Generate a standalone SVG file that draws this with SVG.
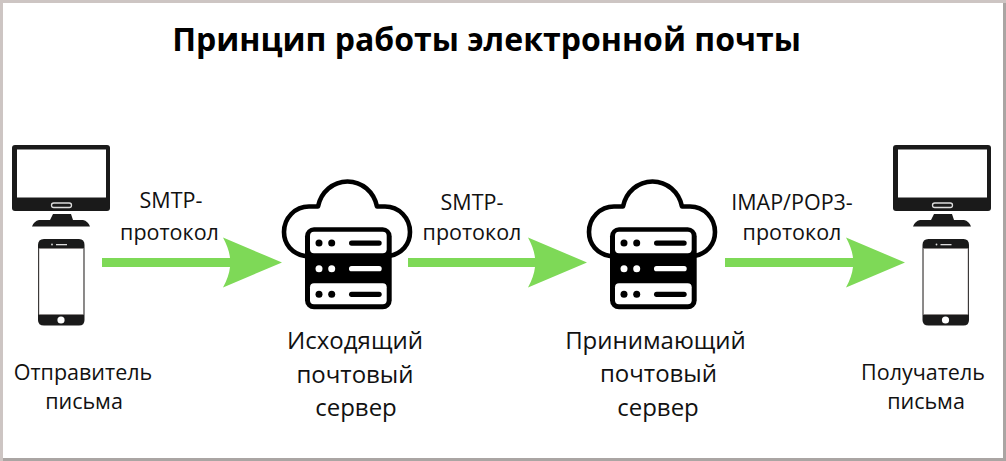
<svg xmlns="http://www.w3.org/2000/svg" width="1006" height="461" viewBox="0 0 1006 461">
<style>
text{font-family:"Open Sans","Noto Sans",sans-serif;fill:#111;text-anchor:middle}
.t{font-size:32px;font-weight:700;fill:#000}
.l{font-size:24px}
.p{font-size:21.500px}
.a{fill:#7ed957}
.k{fill:#1a1a1a}
.w{fill:#fff}
.s{fill:none;stroke:#000;stroke-width:4.600;stroke-linecap:round;stroke-linejoin:round}
</style>
<defs>
<g id="mon">
<path class="k" d="M15 145H107Q110 145 110 148V208Q110 211 107 211H15Q12 211 12 208V148Q12 145 15 145Z"/>
<rect class="w" x="17" y="149.500" width="89" height="48"/>
<rect x="51.500" y="203" width="20" height="4.500" rx="2.200" fill="#1a1a1a" stroke="#ddd" stroke-width="1.300"/>
<path class="k" d="M53 214H71L73 220H83Q88 221 90 226.500H32Q34 221 39 220H50Z"/>
</g>
<g id="ph">
<path class="k" d="M44 239H79Q84.500 239 84.500 245V320Q84.500 325.500 79 325.500H44Q38 325.500 38 320V245Q38 239 44 239Z"/>
<rect class="w" x="39" y="248.500" width="44.500" height="66"/>
<rect x="39" y="248.500" width="44.500" height="66" fill="none" stroke="#8a8482" stroke-width=".6"/>
<circle cx="61" cy="320" r="3.600" fill="#fff"/>
<rect x="56" y="244" width="11" height="1.300" fill="#ddd"/>
<circle cx="52" cy="244.500" r=".9" fill="#ddd"/>
</g>
<g id="srv">
<path class="s" d="M-42 86C-55 84-63 74-63 62C-63 48-52 36.500-38 36.500H-29C-26 22-14 11.500 .5 11.500C15 11.500 27 22 30 36.500H38C52 36.500 63 48 63 62C63 74 55 84 42 86"/>
<rect x="-42" y="57.300" width="86.700" height="82" rx="9" fill="#000"/>
<rect class="w" x="-37" y="61.700" width="76.700" height="21.600" rx="4"/>
<rect class="w" x="-37" y="113.300" width="76.700" height="21" rx="4"/>
<g fill="#000">
<circle cx="-28" cy="73" r="3.500"/><circle cx="-15.300" cy="73" r="3.500"/><rect x="2" y="70.500" width="32.700" height="5.200" rx="2.600"/>
<circle cx="-28" cy="124.300" r="3.500"/><circle cx="-15.300" cy="124.300" r="3.500"/><rect x="2" y="121.700" width="32.700" height="5.200" rx="2.600"/>
</g>
<g fill="#fff">
<circle cx="-28" cy="98.700" r="3.500"/><circle cx="-15.300" cy="98.700" r="3.500"/><rect x="2" y="96.100" width="32.700" height="5.200" rx="2.600"/>
</g>
</g>
<path id="arr" class="a" d="M0 -4.500H128Q127 -14 121 -25L180 0L121 25Q127 14 128 4.500H0Z"/>
<path id="arr2" class="a" d="M1 -4.500H128Q127 -14 121 -25L180 0L121 25Q127 14 128 4.500H1Z"/>
</defs>
<rect width="1006" height="461" fill="#fff"/>
<path d="M0 0H1006V3H3V461H0Z" fill="#cdc5c3"/>
<path d="M1003 3H1006V461H3V458H1003Z" fill="#aaa5a3"/>
<text class="t" x="486.500" y="51">Принцип работы электронной почты</text>
<g id="connectors">
<use href="#arr" x="102" y="262.500"/>
<use href="#arr2" x="407" y="262.500"/>
<use href="#arr" x="725" y="262.500"/>
</g>
<g id="sender">
<use href="#mon"/>
<use href="#ph"/>
<text class="p" x="83" y="380">Отправитель</text>
<text class="p" x="84" y="409">письма</text>
</g>
<g id="outgoing-server">
<use href="#srv" x="347" y="170"/>
<text class="l" x="355" y="349">Исходящий</text>
<text class="l" x="355" y="383">почтовый</text>
<text class="l" x="356" y="416">сервер</text>
</g>
<g id="incoming-server">
<use href="#srv" x="652" y="170"/>
<text class="l" x="655.500" y="349">Принимающий</text>
<text class="l" x="658.500" y="382">почтовый</text>
<text class="l" x="658" y="416">сервер</text>
</g>
<g id="recipient">
<use href="#mon" x="881"/>
<use href="#ph" x="884.500"/>
<text class="p" x="923" y="380">Получатель</text>
<text class="p" x="926" y="409">письма</text>
</g>
<g id="labels">
<text class="p" x="171" y="208">SMTP-</text>
<text class="p" x="169.500" y="240">протокол</text>
<text class="p" x="472" y="210">SMTP-</text>
<text class="p" x="472" y="240">протокол</text>
<text class="p" x="792" y="210">IMAP/POP3-</text>
<text class="p" x="792" y="240">протокол</text>
</g>
</svg>
